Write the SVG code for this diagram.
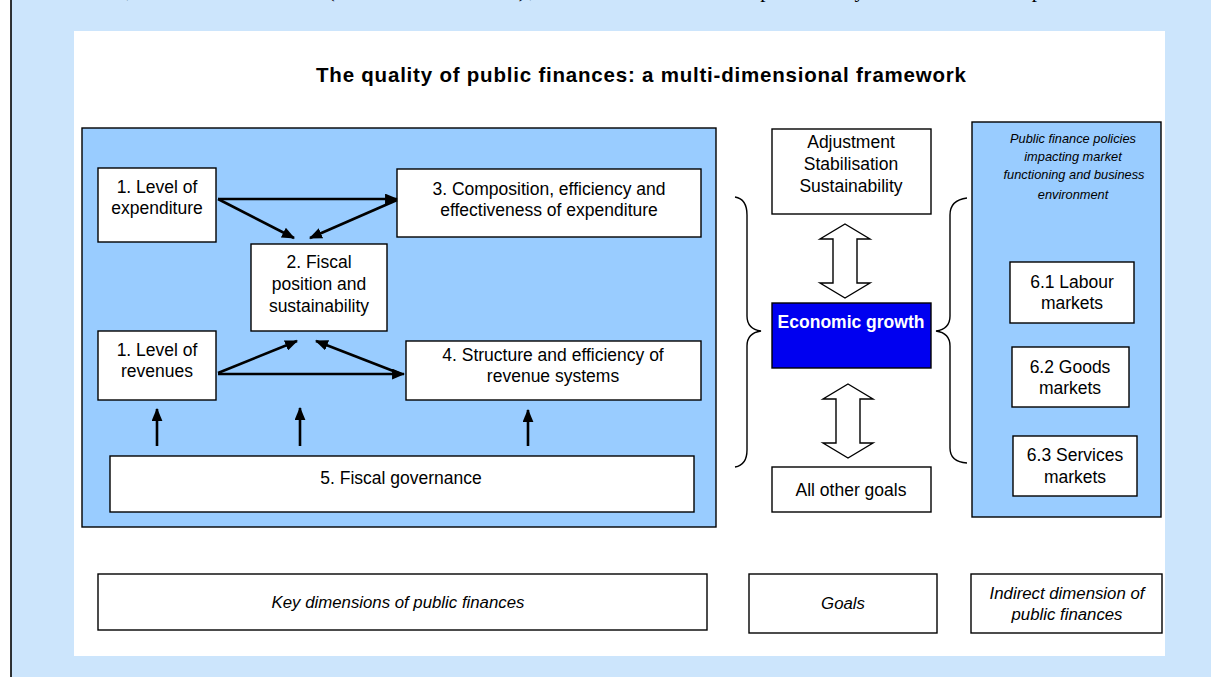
<svg xmlns="http://www.w3.org/2000/svg" width="1211" height="677" viewBox="0 0 1211 677">
  <defs>
    <marker id="ah" viewBox="0 0 12 10" refX="11" refY="5" markerWidth="13" markerHeight="11" markerUnits="userSpaceOnUse" orient="auto">
      <path d="M0,0 L12,5 L0,10 Z" fill="#000"/>
    </marker>
    <style>
      .box { fill: #fff; stroke: #000; stroke-width: 1.4; }
      .panel { fill: #99CCFF; stroke: #000; stroke-width: 1.4; }
      .t { font-family: "Liberation Sans", Arial, sans-serif; font-size: 17.5px; fill: #000; text-anchor: middle; }
      .ti { font-family: "Liberation Sans", Arial, sans-serif; font-size: 16.8px; font-style: italic; fill: #000; text-anchor: middle; }
      .small { font-family: "Liberation Sans", Arial, sans-serif; font-size: 12.8px; font-style: italic; fill: #000; text-anchor: middle; }
      .conn line { stroke: #000; stroke-width: 2.6; marker-end: url(#ah); }
      .dbl { fill: #fff; stroke: #000; stroke-width: 1.4; stroke-linejoin: miter; }
      .brace { fill: none; stroke: #000; stroke-width: 1.4; }
    </style>
  </defs>

  <!-- page -->
  <rect x="0" y="0" width="1211" height="677" fill="#fff"/>
  <rect x="11" y="0" width="1200" height="677" fill="#CCE5FC"/>
  <line x1="11" y1="0" x2="11" y2="677" stroke="#000" stroke-width="1.6"/>
  <text x="58" y="-3" font-family="Liberation Serif, 'Times New Roman', serif" font-size="21" fill="#000" textLength="1038">direct, and of the QPF (see table below), which will be completed by successive reports.</text>

  <!-- figure canvas -->
  <rect x="74" y="31" width="1091" height="625" fill="#fff"/>
  <text x="641" y="82" font-family="Liberation Sans, Arial, sans-serif" font-size="20.5" font-weight="bold" text-anchor="middle" textLength="650" lengthAdjust="spacing">The quality of public finances: a multi-dimensional framework</text>

  <!-- panels -->
  <rect id="panel-key" class="panel" x="82" y="128" width="634" height="399"/>
  <g id="panel-indirect">
    <rect class="panel" x="972" y="122" width="189" height="395"/>
    <text class="small" x="1073" y="143">Public finance policies</text>
    <text class="small" x="1073" y="161">impacting  market</text>
    <text class="small" x="1074" y="179">functioning and business</text>
    <text class="small" x="1073" y="199">environment</text>
  </g>

  <!-- key dimensions -->
  <g id="n1-expenditure">
    <rect class="box" x="98" y="168" width="118" height="74"/>
    <text class="t" x="157" y="193">1. Level of</text>
    <text class="t" x="157" y="214">expenditure</text>
  </g>
  <g id="n2-fiscal-position">
    <rect class="box" x="251" y="244" width="136" height="87"/>
    <text class="t" x="319" y="268">2. Fiscal</text>
    <text class="t" x="319" y="290">position and</text>
    <text class="t" x="319" y="312">sustainability</text>
  </g>
  <g id="n3-composition">
    <rect class="box" x="397" y="169" width="304" height="68"/>
    <text class="t" x="549" y="195">3. Composition, efficiency and</text>
    <text class="t" x="549" y="216">effectiveness of expenditure</text>
  </g>
  <g id="n1-revenues">
    <rect class="box" x="98" y="331" width="118" height="69"/>
    <text class="t" x="157" y="356">1. Level of</text>
    <text class="t" x="157" y="377">revenues</text>
  </g>
  <g id="n4-revenue-systems">
    <rect class="box" x="406" y="341" width="295" height="59"/>
    <text class="t" x="553" y="361">4. Structure and efficiency of</text>
    <text class="t" x="553" y="382">revenue systems</text>
  </g>
  <g id="n5-governance">
    <rect class="box" x="110" y="456" width="584" height="56"/>
    <text class="t" x="401" y="484">5. Fiscal governance</text>
  </g>

  <!-- goals -->
  <g id="g-adjustment">
    <rect class="box" x="772" y="129" width="159" height="85"/>
    <text class="t" x="851" y="148">Adjustment</text>
    <text class="t" x="851" y="170">Stabilisation</text>
    <text class="t" x="851" y="192">Sustainability</text>
  </g>
  <g id="g-growth">
    <rect x="772" y="303" width="159" height="65" fill="#0000F0" stroke="#000" stroke-width="1.4"/>
    <text class="t" x="851" y="328" font-weight="bold" style="fill:#fff">Economic growth</text>
  </g>
  <g id="g-other">
    <rect class="box" x="772" y="467" width="159" height="45"/>
    <text class="t" x="851" y="496">All other goals</text>
  </g>

  <!-- indirect dimension -->
  <g id="n61-labour">
    <rect class="box" x="1010" y="262" width="124" height="61"/>
    <text class="t" x="1072" y="288">6.1 Labour</text>
    <text class="t" x="1072" y="309">markets</text>
  </g>
  <g id="n62-goods">
    <rect class="box" x="1012" y="347" width="117" height="60"/>
    <text class="t" x="1070" y="373">6.2 Goods</text>
    <text class="t" x="1070" y="394">markets</text>
  </g>
  <g id="n63-services">
    <rect class="box" x="1013" y="436" width="124" height="60"/>
    <text class="t" x="1075" y="461">6.3 Services</text>
    <text class="t" x="1075" y="483">markets</text>
  </g>

  <!-- legend row -->
  <g id="legend-key">
    <rect class="box" x="98" y="574" width="609" height="56"/>
    <text class="ti" x="398" y="608">Key dimensions of public finances</text>
  </g>
  <g id="legend-goals">
    <rect class="box" x="749" y="574" width="188" height="59"/>
    <text class="ti" x="843" y="609">Goals</text>
  </g>
  <g id="legend-indirect">
    <rect class="box" x="971" y="574" width="191" height="59"/>
    <text class="ti" x="1067" y="599">Indirect dimension of</text>
    <text class="ti" x="1067" y="620">public finances</text>
  </g>

  <!-- connectors -->
  <g id="connectors" class="conn">
    <line x1="218" y1="199" x2="397" y2="199"/>
    <line x1="218" y1="199" x2="294" y2="238"/>
    <line x1="397" y1="200" x2="310" y2="238"/>
    <line x1="218" y1="373" x2="297" y2="341"/>
    <line x1="218" y1="374" x2="404" y2="374"/>
    <line x1="401" y1="374" x2="316" y2="341"/>
    <line x1="157" y1="446" x2="157" y2="409"/>
    <line x1="300" y1="446" x2="300" y2="408"/>
    <line x1="528" y1="446" x2="528" y2="410"/>
    <path class="dbl" d="M845,224 L870,239 L857,239 L857,283 L870,283 L845,298 L820,283 L833,283 L833,239 L820,239 Z"/>
    <path class="dbl" d="M848,384 L873,399 L860,399 L860,443 L873,443 L848,458 L823,443 L836,443 L836,399 L823,399 Z"/>
    <path class="brace" d="M735,197 Q747,199 747,215 L747,316 Q747,329 761,331 Q747,333 747,346 L747,450 Q747,465 735,467"/>
    <path class="brace" d="M967,198 Q950,200 950,215 L950,316 Q950,329 936,331 Q950,333 950,346 L950,448 Q950,462 967,463"/>
  </g>
</svg>
